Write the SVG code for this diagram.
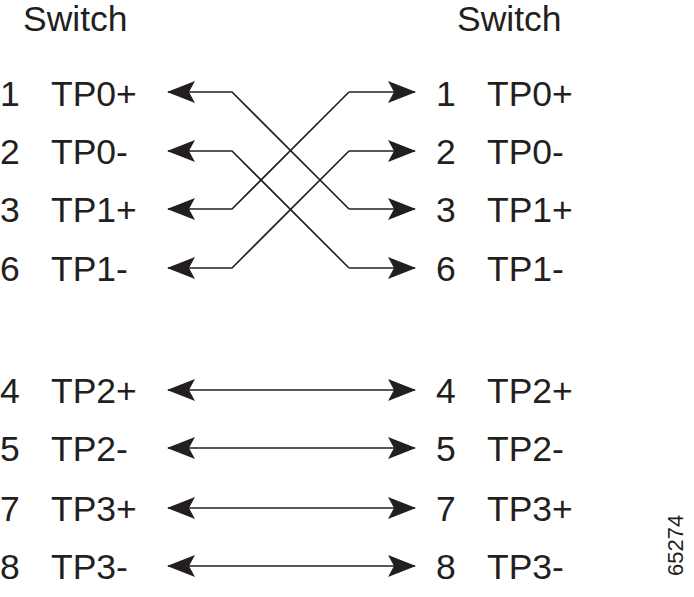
<svg xmlns="http://www.w3.org/2000/svg" width="694" height="597" viewBox="0 0 694 597">
<style>
text{font-family:"Liberation Sans",Arial,sans-serif;fill:#231f20;font-size:35.5px}
.c{fill:none;stroke:#231f20;stroke-width:1.6}
</style>
<defs>
<marker id="a" viewBox="0 0 28 24" refX="27" refY="12" markerWidth="28" markerHeight="24" markerUnits="userSpaceOnUse" orient="auto-start-reverse">
<path d="M0,1 L28,12 L0,23 L6,12 Z" fill="#231f20"/>
</marker>
</defs>
<rect width="694" height="597" fill="#fff"/>
<g id="left-switch">
<text x="23" y="31">Switch</text>
<text x="0" y="106">1</text><text x="51" y="106">TP0+</text>
<text x="0" y="164">2</text><text x="51" y="164">TP0-</text>
<text x="0" y="222">3</text><text x="51" y="222">TP1+</text>
<text x="0" y="281">6</text><text x="51" y="281">TP1-</text>
<text x="0" y="403">4</text><text x="51" y="403">TP2+</text>
<text x="0" y="461">5</text><text x="51" y="461">TP2-</text>
<text x="0" y="521">7</text><text x="51" y="521">TP3+</text>
<text x="0" y="579">8</text><text x="51" y="579">TP3-</text>
</g>
<g id="right-switch">
<text x="457" y="31">Switch</text>
<text x="436" y="106">1</text><text x="487" y="106">TP0+</text>
<text x="436" y="164">2</text><text x="487" y="164">TP0-</text>
<text x="436" y="222">3</text><text x="487" y="222">TP1+</text>
<text x="436" y="281">6</text><text x="487" y="281">TP1-</text>
<text x="436" y="403">4</text><text x="487" y="403">TP2+</text>
<text x="436" y="461">5</text><text x="487" y="461">TP2-</text>
<text x="436" y="521">7</text><text x="487" y="521">TP3+</text>
<text x="436" y="579">8</text><text x="487" y="579">TP3-</text>
</g>
<g id="figure-number">
<text transform="translate(683,576) rotate(-90)" style="font-size:22px">65274</text>
</g>
<g id="connectors">
<path class="c" marker-start="url(#a)" d="M168,92 H232 L349,209"/>
<path class="c" marker-end="url(#a)" d="M349,209 H415"/>
<path class="c" marker-start="url(#a)" d="M168,151 H232 L349,268"/>
<path class="c" marker-end="url(#a)" d="M349,268 H415"/>
<path class="c" marker-start="url(#a)" d="M168,209 H232 L349,92"/>
<path class="c" marker-end="url(#a)" d="M349,92 H415"/>
<path class="c" marker-start="url(#a)" d="M168,268 H232 L349,151"/>
<path class="c" marker-end="url(#a)" d="M349,151 H415"/>
<path class="c" marker-start="url(#a)" marker-end="url(#a)" d="M168,390 H415"/>
<path class="c" marker-start="url(#a)" marker-end="url(#a)" d="M168,448 H415"/>
<path class="c" marker-start="url(#a)" marker-end="url(#a)" d="M168,508 H415"/>
<path class="c" marker-start="url(#a)" marker-end="url(#a)" d="M168,566 H415"/>
</g>
</svg>
